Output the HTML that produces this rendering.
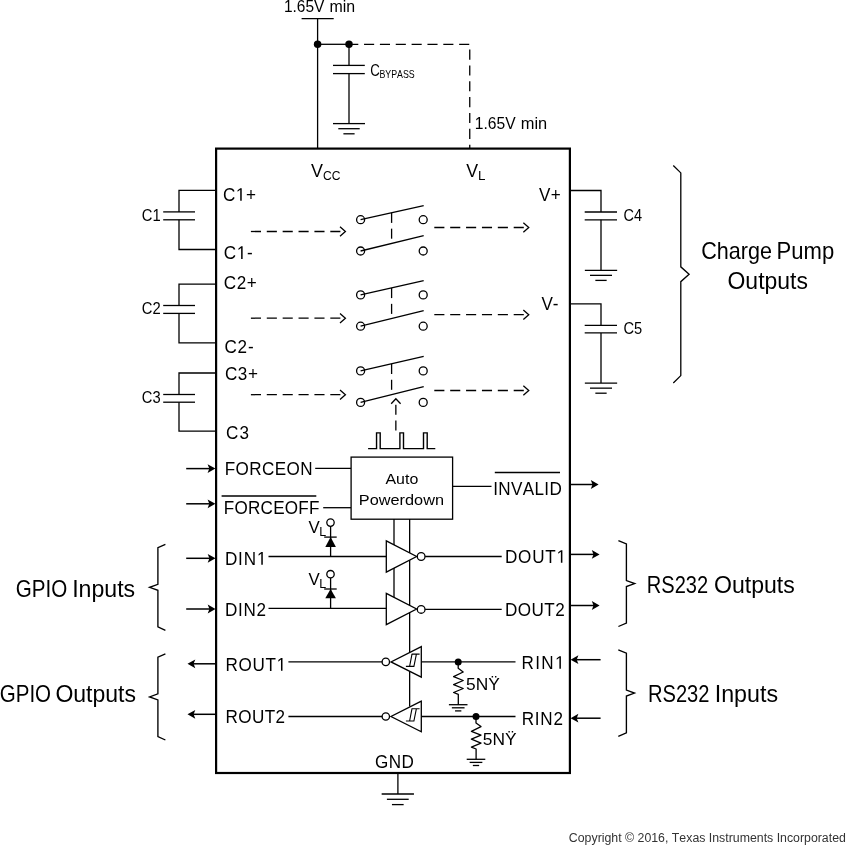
<!DOCTYPE html>
<html><head><meta charset="utf-8"><title>Block diagram</title>
<style>
html,body{margin:0;padding:0;background:#fff;}
svg{display:block;font-family:"Liberation Sans",sans-serif;font-kerning:none;will-change:transform;}
</style></head>
<body>
<svg width="863" height="854" viewBox="0 0 863 854" stroke="#000" fill="none" stroke-linecap="butt" stroke-linejoin="miter">
<rect x="0" y="0" width="863" height="854" fill="#fff" stroke="none"/>
<rect x="216.1" y="148.6" width="353.79999999999995" height="624.4" fill="none" stroke-width="2.2"/>
<line x1="301.6" y1="18.6" x2="333.7" y2="18.6" stroke-width="1.3" />
<line x1="317.6" y1="18.6" x2="317.6" y2="148.6" stroke-width="1.3" />
<line x1="317.6" y1="44.3" x2="349" y2="44.3" stroke-width="1.3" />
<circle cx="317.6" cy="44.3" r="3.75" fill="#000" stroke="none"/>
<circle cx="349" cy="44.3" r="3.75" fill="#000" stroke="none"/>
<path d="M348.2,44.3 H469.75 V148.6" fill="none" stroke-width="1.3" stroke-dasharray="10.1 5.75"/>
<line x1="349" y1="44.3" x2="349" y2="65.4" stroke-width="1.3" />
<line x1="333" y1="65.4" x2="364.8" y2="65.4" stroke-width="1.3" />
<line x1="333" y1="73.6" x2="364.8" y2="73.6" stroke-width="1.3" />
<line x1="349" y1="73.6" x2="349" y2="123.6" stroke-width="1.3" />
<line x1="333.0" y1="123.6" x2="365.0" y2="123.6" stroke-width="1.3" />
<line x1="338.3" y1="128.7" x2="359.7" y2="128.7" stroke-width="1.3" />
<line x1="343.4" y1="133.79999999999998" x2="354.6" y2="133.79999999999998" stroke-width="1.3" />
<text x="283.92" y="12.05" font-size="15.6" textLength="40.45" lengthAdjust="spacingAndGlyphs" fill="#000" stroke="none" >1.65V</text>
<text x="329.44" y="12.05" font-size="15.6" textLength="25.69" lengthAdjust="spacingAndGlyphs" fill="#000" stroke="none" >min</text>
<text x="474.81" y="128.5" font-size="15.6" textLength="40.86" lengthAdjust="spacingAndGlyphs" fill="#000" stroke="none" >1.65V</text>
<text x="520.81" y="128.5" font-size="15.6" textLength="26.46" lengthAdjust="spacingAndGlyphs" fill="#000" stroke="none" >min</text>
<text x="370.23" y="76" font-size="15.6" textLength="9.58" lengthAdjust="spacingAndGlyphs" fill="#000" stroke="none" >C</text>
<text x="379.38" y="78.4" font-size="11.5" textLength="35.33" lengthAdjust="spacingAndGlyphs" fill="#000" stroke="none" >BYPASS</text>
<text transform="translate(311.12,176.8) scale(1.0015,1)" font-size="17.9" letter-spacing="0.000" fill="#000" stroke="none" >V</text>
<text x="323.09" y="180.1" font-size="13.3" textLength="17.48" lengthAdjust="spacingAndGlyphs" fill="#000" stroke="none" >CC</text>
<text transform="translate(466.32,176.8) scale(0.9931,1)" font-size="17.9" letter-spacing="0.000" fill="#000" stroke="none" >V</text>
<text x="478.00" y="179.9" font-size="13.3" textLength="7.44" lengthAdjust="spacingAndGlyphs" fill="#000" stroke="none" >L</text>
<path d="M216.1,190.4 H179.0 V211.9 M179.0,219.8 V249.5 H216.1" stroke-width="1.3" fill="none" />
<line x1="163.2" y1="211.9" x2="195" y2="211.9" stroke-width="1.3" />
<line x1="163.2" y1="219.8" x2="195" y2="219.8" stroke-width="1.3" />
<text x="141.85" y="221.1" font-size="15.6" textLength="18.87" lengthAdjust="spacingAndGlyphs" fill="#000" stroke="none" >C1</text>
<path d="M216.1,284.1 H179.0 V305.5 M179.0,313.4 V342.8 H216.1" stroke-width="1.3" fill="none" />
<line x1="163.2" y1="305.5" x2="195" y2="305.5" stroke-width="1.3" />
<line x1="163.2" y1="313.4" x2="195" y2="313.4" stroke-width="1.3" />
<text x="141.85" y="313.8" font-size="15.6" textLength="18.89" lengthAdjust="spacingAndGlyphs" fill="#000" stroke="none" >C2</text>
<path d="M216.1,373.0 H179.0 V394.5 M179.0,402.2 V431.1 H216.1" stroke-width="1.3" fill="none" />
<line x1="163.2" y1="394.5" x2="195" y2="394.5" stroke-width="1.3" />
<line x1="163.2" y1="402.2" x2="195" y2="402.2" stroke-width="1.3" />
<text x="141.85" y="402.6" font-size="15.6" textLength="18.79" lengthAdjust="spacingAndGlyphs" fill="#000" stroke="none" >C3</text>
<path transform="translate(235.91,200.8) scale(0.008355,-0.008984)" d="M515 0V1237L197 1010V1180L530 1409H696V0Z" fill="#000" stroke="none"/>
<text transform="translate(222.93,200.8) scale(0.9300,1)" font-size="18.4" letter-spacing="0.669" fill="#000" stroke="none" >C</text>
<text transform="translate(246.05,200.8) scale(0.9300,1)" font-size="18.4" letter-spacing="0.669" fill="#000" stroke="none" >+</text>
<path transform="translate(236.82,259) scale(0.008355,-0.008984)" d="M515 0V1237L197 1010V1180L530 1409H696V0Z" fill="#000" stroke="none"/>
<text transform="translate(223.73,259) scale(0.9300,1)" font-size="18.4" letter-spacing="0.783" fill="#000" stroke="none" >C</text>
<text transform="translate(247.06,259) scale(0.9300,1)" font-size="18.4" letter-spacing="0.783" fill="#000" stroke="none" >-</text>
<text transform="translate(223.73,288.6) scale(0.9300,1)" font-size="18.4" letter-spacing="0.616" fill="#000" stroke="none" >C2+</text>
<text transform="translate(224.43,353) scale(0.9300,1)" font-size="18.4" letter-spacing="0.890" fill="#000" stroke="none" >C2-</text>
<text transform="translate(224.93,379.6) scale(0.9300,1)" font-size="18.4" letter-spacing="0.616" fill="#000" stroke="none" >C3+</text>
<text transform="translate(225.93,438.5) scale(0.9300,1)" font-size="18.4" letter-spacing="1.448" fill="#000" stroke="none" >C3</text>
<circle cx="360.6" cy="219.7" r="4.0" fill="none" stroke-width="1.3"/>
<circle cx="423.2" cy="219.7" r="4.0" fill="none" stroke-width="1.3"/>
<circle cx="360.6" cy="251" r="4.0" fill="none" stroke-width="1.3"/>
<circle cx="423.2" cy="251" r="4.0" fill="none" stroke-width="1.3"/>
<line x1="360.6" y1="219.7" x2="423.7" y2="205.6" stroke-width="1.3" />
<line x1="360.6" y1="251" x2="423.7" y2="235.7" stroke-width="1.3" />
<line x1="391.6" y1="212.8" x2="391.6" y2="222.9" stroke-width="1.3" />
<line x1="391.6" y1="228.65" x2="391.6" y2="238.70000000000002" stroke-width="1.3" />
<circle cx="360.6" cy="294.9" r="4.0" fill="none" stroke-width="1.3"/>
<circle cx="423.2" cy="294.9" r="4.0" fill="none" stroke-width="1.3"/>
<circle cx="360.6" cy="326.2" r="4.0" fill="none" stroke-width="1.3"/>
<circle cx="423.2" cy="326.2" r="4.0" fill="none" stroke-width="1.3"/>
<line x1="360.6" y1="294.9" x2="423.7" y2="280.6" stroke-width="1.3" />
<line x1="360.6" y1="326.2" x2="423.7" y2="310.7" stroke-width="1.3" />
<line x1="391.6" y1="288.0" x2="391.6" y2="298.1" stroke-width="1.3" />
<line x1="391.6" y1="303.85" x2="391.6" y2="313.9" stroke-width="1.3" />
<circle cx="360.6" cy="370.9" r="4.0" fill="none" stroke-width="1.3"/>
<circle cx="423.2" cy="370.9" r="4.0" fill="none" stroke-width="1.3"/>
<circle cx="360.6" cy="402.4" r="4.0" fill="none" stroke-width="1.3"/>
<circle cx="423.2" cy="402.4" r="4.0" fill="none" stroke-width="1.3"/>
<line x1="360.6" y1="370.9" x2="423.7" y2="356.3" stroke-width="1.3" />
<line x1="360.6" y1="402.4" x2="423.7" y2="386.6" stroke-width="1.3" />
<line x1="391.6" y1="363.9" x2="391.6" y2="374.0" stroke-width="1.3" />
<line x1="391.6" y1="379.75" x2="391.6" y2="389.79999999999995" stroke-width="1.3" />
<line x1="250.9" y1="231.5" x2="344.79999999999995" y2="231.5" stroke-width="1.3" stroke-dasharray="10.1 5.78"/>
<path d="M340.0,226.8 L345.4,231.5 L340.0,236.2" stroke-width="1.3" fill="none" />
<line x1="250.9" y1="318.2" x2="344.79999999999995" y2="318.2" stroke-width="1.3" stroke-dasharray="10.1 5.78"/>
<path d="M340.0,313.5 L345.4,318.2 L340.0,322.9" stroke-width="1.3" fill="none" />
<line x1="250.9" y1="394.7" x2="344.79999999999995" y2="394.7" stroke-width="1.3" stroke-dasharray="10.1 5.78"/>
<path d="M340.0,390.0 L345.4,394.7 L340.0,399.4" stroke-width="1.3" fill="none" />
<line x1="434.3" y1="227.5" x2="528.15" y2="227.5" stroke-width="1.3" stroke-dasharray="10.1 5.78"/>
<path d="M523.35,222.8 L528.75,227.5 L523.35,232.2" stroke-width="1.3" fill="none" />
<line x1="434.3" y1="314.7" x2="528.15" y2="314.7" stroke-width="1.3" stroke-dasharray="10.1 5.78"/>
<path d="M523.35,310.0 L528.75,314.7 L523.35,319.4" stroke-width="1.3" fill="none" />
<line x1="434.3" y1="390.5" x2="528.15" y2="390.5" stroke-width="1.3" stroke-dasharray="10.1 5.78"/>
<path d="M523.35,385.8 L528.75,390.5 L523.35,395.2" stroke-width="1.3" fill="none" />
<path d="M391.2,403.7 L395.85,398.7 L400.6,403.7" stroke-width="1.3" fill="none" />
<line x1="395.85" y1="404.65" x2="395.85" y2="414.75" stroke-width="1.3" />
<line x1="395.85" y1="420.5" x2="395.85" y2="430.6" stroke-width="1.3" />
<path d="M368.1,448.6 H376.55 V432.9 H380.2 V448.6 H399.9 V432.9 H403.5 V448.6 H423.5 V432.9 H427.2 V448.6 H435.3" stroke-width="1.4" fill="none" />
<path d="M569.9,190.5 H601 V212.0 M601,219.8 V270.3" stroke-width="1.3" fill="none" />
<line x1="584.7" y1="212.0" x2="617" y2="212.0" stroke-width="1.3" />
<line x1="584.7" y1="219.8" x2="617" y2="219.8" stroke-width="1.3" />
<line x1="584.85" y1="270.3" x2="617.15" y2="270.3" stroke-width="1.3" />
<line x1="590.0" y1="275.35" x2="612.0" y2="275.35" stroke-width="1.3" />
<line x1="595.35" y1="280.40000000000003" x2="606.65" y2="280.40000000000003" stroke-width="1.3" />
<text x="623.46" y="221" font-size="15.6" textLength="18.56" lengthAdjust="spacingAndGlyphs" fill="#000" stroke="none" >C4</text>
<path d="M569.9,303.8 H601 V325.3 M601,332.9 V383.1" stroke-width="1.3" fill="none" />
<line x1="584.7" y1="325.3" x2="617" y2="325.3" stroke-width="1.3" />
<line x1="584.7" y1="332.9" x2="617" y2="332.9" stroke-width="1.3" />
<line x1="584.85" y1="383.1" x2="617.15" y2="383.1" stroke-width="1.3" />
<line x1="590.0" y1="388.15000000000003" x2="612.0" y2="388.15000000000003" stroke-width="1.3" />
<line x1="595.35" y1="393.20000000000005" x2="606.65" y2="393.20000000000005" stroke-width="1.3" />
<text x="623.45" y="333.9" font-size="15.6" textLength="18.76" lengthAdjust="spacingAndGlyphs" fill="#000" stroke="none" >C5</text>
<text transform="translate(538.92,200.8) scale(0.9300,1)" font-size="18.4" letter-spacing="0.443" fill="#000" stroke="none" >V+</text>
<text transform="translate(541.52,309.6) scale(0.9300,1)" font-size="18.4" letter-spacing="-0.082" fill="#000" stroke="none" >V-</text>
<path d="M673.3,165.5 L680.8,172.9 V266.85 L689.1,274.25 L680.8,281.65 V375.6 L673.3,383" stroke-width="1.3" fill="none" />
<text x="701.20" y="258.8" font-size="23.8" textLength="70.75" lengthAdjust="spacingAndGlyphs" fill="#000" stroke="none" >Charge</text>
<text x="776.59" y="258.8" font-size="23.8" textLength="57.64" lengthAdjust="spacingAndGlyphs" fill="#000" stroke="none" >Pump</text>
<text x="727.51" y="288.5" font-size="23.8" textLength="80.42" lengthAdjust="spacingAndGlyphs" fill="#000" stroke="none" >Outputs</text>
<path d="M165.4,544.3 L157.9,547.6999999999999 V584.3 L149.6,587.3 L157.9,590.3 V626.9 L165.4,630.3" stroke-width="1.35" fill="none" />
<path d="M165.4,653.8 L157.9,657.1999999999999 V693.9 L149.6,696.9 L157.9,699.9 V736.6 L165.4,740" stroke-width="1.35" fill="none" />
<path d="M618.4,540.6 L626.4,544.0 V580.55 L634.7,583.55 L626.4,586.55 V623.1 L618.4,626.5" stroke-width="1.35" fill="none" />
<path d="M618.3,649.8 L626.4,653.1999999999999 V690.05 L634.5,693.05 L626.4,696.05 V732.9 L618.3,736.3" stroke-width="1.35" fill="none" />
<text x="15.76" y="596.5" font-size="23.8" textLength="51.52" lengthAdjust="spacingAndGlyphs" fill="#000" stroke="none" >GPIO</text>
<text x="72.17" y="596.5" font-size="23.8" textLength="62.97" lengthAdjust="spacingAndGlyphs" fill="#000" stroke="none" >Inputs</text>
<text x="-0.23" y="701.5" font-size="23.8" textLength="51.31" lengthAdjust="spacingAndGlyphs" fill="#000" stroke="none" >GPIO</text>
<text x="55.41" y="701.5" font-size="23.8" textLength="80.62" lengthAdjust="spacingAndGlyphs" fill="#000" stroke="none" >Outputs</text>
<text x="646.75" y="592.6" font-size="23.8" textLength="61.36" lengthAdjust="spacingAndGlyphs" fill="#000" stroke="none" >RS232</text>
<text x="714.01" y="592.6" font-size="23.8" textLength="80.83" lengthAdjust="spacingAndGlyphs" fill="#000" stroke="none" >Outputs</text>
<text x="647.95" y="701.6" font-size="23.8" textLength="61.56" lengthAdjust="spacingAndGlyphs" fill="#000" stroke="none" >RS232</text>
<text x="714.76" y="701.6" font-size="23.8" textLength="63.28" lengthAdjust="spacingAndGlyphs" fill="#000" stroke="none" >Inputs</text>
<rect x="351.1" y="457.1" width="101.5" height="62.1" fill="none" stroke-width="1.3"/>
<text x="385.47" y="484.0" font-size="14.5" textLength="32.80" lengthAdjust="spacingAndGlyphs" fill="#000" stroke="none" >Auto</text>
<text x="358.86" y="504.8" font-size="14.5" textLength="85.09" lengthAdjust="spacingAndGlyphs" fill="#000" stroke="none" >Powerdown</text>
<line x1="186.2" y1="468.6" x2="209.79999999999998" y2="468.6" stroke-width="1.5" />
<path d="M215.4,468.6 L207.6,464.20000000000005 L209.29999999999998,468.6 L207.6,473.0 Z" fill="#000" stroke="none"/>
<line x1="186.2" y1="503.8" x2="209.79999999999998" y2="503.8" stroke-width="1.5" />
<path d="M215.4,503.8 L207.6,499.40000000000003 L209.29999999999998,503.8 L207.6,508.2 Z" fill="#000" stroke="none"/>
<text transform="translate(224.70,474.7) scale(0.9300,1)" font-size="18.4" letter-spacing="0.419" fill="#000" stroke="none" >FORCEON</text>
<text transform="translate(223.80,514.2) scale(0.9300,1)" font-size="18.4" letter-spacing="0.243" fill="#000" stroke="none" >FORCEOFF</text>
<line x1="221.6" y1="496.1" x2="316.3" y2="496.1" stroke-width="1.5" />
<line x1="315.2" y1="468.3" x2="351" y2="468.3" stroke-width="1.3" />
<line x1="323.2" y1="507.7" x2="351" y2="507.7" stroke-width="1.3" />
<line x1="452.6" y1="486.4" x2="491.5" y2="486.4" stroke-width="1.3" />
<text transform="translate(493.22,494.6) scale(0.9300,1)" font-size="18.4" letter-spacing="0.364" fill="#000" stroke="none" >INVALID</text>
<line x1="494.8" y1="472.6" x2="560" y2="472.6" stroke-width="1.5" />
<line x1="569.9" y1="484.5" x2="593.0000000000001" y2="484.5" stroke-width="1.5" />
<path d="M598.6,484.5 L590.8000000000001,480.1 L592.5000000000001,484.5 L590.8000000000001,488.9 Z" fill="#000" stroke="none"/>
<line x1="394.0" y1="519" x2="394.0" y2="597.8" stroke-width="1.3" />
<line x1="409.65" y1="519" x2="409.65" y2="706.5" stroke-width="1.3" />
<path d="M386.3,540.9 L416.6,556.5 L386.3,572.1 Z" fill="#fff" stroke-width="1.3"/>
<circle cx="421.15" cy="556.5" r="3.85" fill="#fff" stroke-width="1.3"/>
<line x1="268.5" y1="556.5" x2="386.3" y2="556.5" stroke-width="1.3" />
<line x1="425.1" y1="556.5" x2="501.7" y2="556.5" stroke-width="1.3" />
<path transform="translate(256.98,564.7) scale(0.008355,-0.008984)" d="M515 0V1237L197 1010V1180L530 1409H696V0Z" fill="#000" stroke="none"/>
<text transform="translate(224.90,564.7) scale(0.9300,1)" font-size="18.4" letter-spacing="0.939" fill="#000" stroke="none" >DIN</text>
<path transform="translate(556.58,562.8) scale(0.008355,-0.008984)" d="M515 0V1237L197 1010V1180L530 1409H696V0Z" fill="#000" stroke="none"/>
<text transform="translate(504.90,562.8) scale(0.9300,1)" font-size="18.4" letter-spacing="0.863" fill="#000" stroke="none" >DOUT</text>
<line x1="186.2" y1="558.3" x2="209.89999999999998" y2="558.3" stroke-width="1.5" />
<path d="M215.5,558.3 L207.7,553.9 L209.39999999999998,558.3 L207.7,562.6999999999999 Z" fill="#000" stroke="none"/>
<line x1="569.9" y1="554.4" x2="594.0000000000001" y2="554.4" stroke-width="1.5" />
<path d="M599.6,554.4 L591.8000000000001,550.0 L593.5000000000001,554.4 L591.8000000000001,558.8 Z" fill="#000" stroke="none"/>
<line x1="330.6" y1="526.1" x2="330.6" y2="556.5" stroke-width="1.3" />
<circle cx="330.5" cy="522.6" r="3.7" fill="#fff" stroke-width="1.3"/>
<line x1="324.2" y1="537.1" x2="336.7" y2="537.1" stroke-width="1.3" />
<path d="M330.6,537.1 L325.3,546.9 L335.9,546.9 Z" fill="#000" stroke="none"/>
<text transform="translate(308.53,532.8) scale(0.9748,1)" font-size="17.3" letter-spacing="0.000" fill="#000" stroke="none" >V</text>
<text x="319.18" y="535.8" font-size="12.8" textLength="6.94" lengthAdjust="spacingAndGlyphs" fill="#000" stroke="none" >L</text>
<path d="M386.3,593.4 L416.6,609 L386.3,624.6 Z" fill="#fff" stroke-width="1.3"/>
<circle cx="421.15" cy="609.4" r="3.85" fill="#fff" stroke-width="1.3"/>
<line x1="268.5" y1="608.4" x2="386.3" y2="608.4" stroke-width="1.3" />
<line x1="425.1" y1="609.4" x2="501.7" y2="609.4" stroke-width="1.3" />
<text transform="translate(224.90,615.8) scale(0.9300,1)" font-size="18.4" letter-spacing="0.745" fill="#000" stroke="none" >DIN2</text>
<text transform="translate(504.90,616.2) scale(0.9300,1)" font-size="18.4" letter-spacing="0.529" fill="#000" stroke="none" >DOUT2</text>
<line x1="186.2" y1="609" x2="209.89999999999998" y2="609" stroke-width="1.5" />
<path d="M215.5,609 L207.7,604.6 L209.39999999999998,609 L207.7,613.4 Z" fill="#000" stroke="none"/>
<line x1="569.9" y1="605.5" x2="594.0000000000001" y2="605.5" stroke-width="1.5" />
<path d="M599.6,605.5 L591.8000000000001,601.1 L593.5000000000001,605.5 L591.8000000000001,609.9 Z" fill="#000" stroke="none"/>
<line x1="330.6" y1="577.7" x2="330.6" y2="608.4" stroke-width="1.3" />
<circle cx="330.5" cy="574.2" r="3.7" fill="#fff" stroke-width="1.3"/>
<line x1="324.2" y1="589" x2="336.7" y2="589" stroke-width="1.3" />
<path d="M330.6,589 L325.3,598.2 L335.9,598.2 Z" fill="#000" stroke="none"/>
<text transform="translate(308.53,584.8) scale(0.9748,1)" font-size="17.3" letter-spacing="0.000" fill="#000" stroke="none" >V</text>
<text x="319.18" y="587.8" font-size="12.8" textLength="6.94" lengthAdjust="spacingAndGlyphs" fill="#000" stroke="none" >L</text>
<path d="M421.3,646.6 L391.0,661.9 L421.3,677.1999999999999 Z" fill="#fff" stroke-width="1.3"/>
<circle cx="385.8" cy="661.9" r="3.7" fill="#fff" stroke-width="1.3"/>
<line x1="288.4" y1="661.9" x2="382.3" y2="661.9" stroke-width="1.3" />
<line x1="421.3" y1="661.9" x2="515.5" y2="661.9" stroke-width="1.3" />
<path d="M405.9,666.4 H413.9 L416.4,654.1 M409.6,666.4 L412,654.1 M411.7,654.1 H419.6" stroke-width="1.1" fill="none" />
<path transform="translate(276.68,670.7) scale(0.008355,-0.008984)" d="M515 0V1237L197 1010V1180L530 1409H696V0Z" fill="#000" stroke="none"/>
<text transform="translate(225.60,670.7) scale(0.9300,1)" font-size="18.4" letter-spacing="0.702" fill="#000" stroke="none" >ROUT</text>
<path transform="translate(555.08,668.8) scale(0.008355,-0.008984)" d="M515 0V1237L197 1010V1180L530 1409H696V0Z" fill="#000" stroke="none"/>
<text transform="translate(521.40,668.8) scale(0.9300,1)" font-size="18.4" letter-spacing="1.512" fill="#000" stroke="none" >RIN</text>
<line x1="193.10000000000002" y1="663.8" x2="216.1" y2="663.8" stroke-width="1.5" />
<path d="M187.5,663.8 L195.3,659.4 L193.60000000000002,663.8 L195.3,668.1999999999999 Z" fill="#000" stroke="none"/>
<line x1="576.1999999999999" y1="659.7" x2="600.6" y2="659.7" stroke-width="1.5" />
<path d="M570.6,659.7 L578.4,655.3000000000001 L576.6999999999999,659.7 L578.4,664.1 Z" fill="#000" stroke="none"/>
<circle cx="458.2" cy="661.9" r="3.5" fill="#000" stroke="none"/>
<path d="M458.2,661.9 L458.2,668.3 L463.2,672.0 L453.6,676.7 L463.2,680.5 L453.6,684.6 L463.2,688.5 L453.6,692.5 L458.3,694.4 L458.3,704.7" stroke-width="1.3" fill="none" stroke-linejoin="round"/>
<line x1="448.9" y1="704.6999999999999" x2="467.5" y2="704.6999999999999" stroke-width="1.3" />
<line x1="451.84999999999997" y1="707.8" x2="464.55" y2="707.8" stroke-width="1.3" />
<line x1="455.05" y1="710.9" x2="461.34999999999997" y2="710.9" stroke-width="1.3" />
<text x="466.10" y="690.2" font-size="16.8" textLength="33.78" lengthAdjust="spacingAndGlyphs" fill="#000" stroke="none" >5NŸ</text>
<path d="M421.3,701.2 L391.0,716.5 L421.3,731.8 Z" fill="#fff" stroke-width="1.3"/>
<circle cx="385.8" cy="716.5" r="3.7" fill="#fff" stroke-width="1.3"/>
<line x1="288.4" y1="716.5" x2="382.3" y2="716.5" stroke-width="1.3" />
<line x1="421.3" y1="716.5" x2="515.5" y2="716.5" stroke-width="1.3" />
<path d="M405.9,721.0 H413.9 L416.4,708.7 M409.6,721.0 L412,708.7 M411.7,708.7 H419.6" stroke-width="1.1" fill="none" />
<text transform="translate(225.60,723.4) scale(0.9300,1)" font-size="18.4" letter-spacing="0.422" fill="#000" stroke="none" >ROUT2</text>
<text transform="translate(521.80,724.5) scale(0.9300,1)" font-size="18.4" letter-spacing="0.781" fill="#000" stroke="none" >RIN2</text>
<line x1="193.10000000000002" y1="714.3" x2="216.1" y2="714.3" stroke-width="1.5" />
<path d="M187.5,714.3 L195.3,709.9 L193.60000000000002,714.3 L195.3,718.6999999999999 Z" fill="#000" stroke="none"/>
<line x1="576.1999999999999" y1="718.2" x2="600.6" y2="718.2" stroke-width="1.5" />
<path d="M570.6,718.2 L578.4,713.8000000000001 L576.6999999999999,718.2 L578.4,722.6 Z" fill="#000" stroke="none"/>
<circle cx="476" cy="716.5" r="3.5" fill="#000" stroke="none"/>
<path d="M476.0,716.5 L476.0,722.9 L481.0,726.6 L471.4,731.3 L481.0,735.1 L471.4,739.2 L481.0,743.1 L471.4,747.1 L476.1,749.0 L476.1,759.3" stroke-width="1.3" fill="none" stroke-linejoin="round"/>
<line x1="466.7" y1="759.3" x2="485.3" y2="759.3" stroke-width="1.3" />
<line x1="469.65" y1="762.4" x2="482.35" y2="762.4" stroke-width="1.3" />
<line x1="472.85" y1="765.5" x2="479.15" y2="765.5" stroke-width="1.3" />
<text x="482.80" y="745.2" font-size="16.8" textLength="33.78" lengthAdjust="spacingAndGlyphs" fill="#000" stroke="none" >5NŸ</text>
<text transform="translate(375.04,767.9) scale(0.9300,1)" font-size="18.4" letter-spacing="0.459" fill="#000" stroke="none" >GND</text>
<line x1="397.9" y1="773.0" x2="397.9" y2="794.0" stroke-width="1.3" />
<line x1="381.65000000000003" y1="794.0" x2="413.95" y2="794.0" stroke-width="1.3" />
<line x1="386.90000000000003" y1="799.3" x2="408.7" y2="799.3" stroke-width="1.3" />
<line x1="391.95" y1="804.6" x2="403.65000000000003" y2="804.6" stroke-width="1.3" />
<text x="568.87" y="841.6" font-size="12" textLength="277.02" lengthAdjust="spacingAndGlyphs" fill="#333" stroke="none" >Copyright © 2016, Texas Instruments Incorporated</text>
</svg>
</body></html>
